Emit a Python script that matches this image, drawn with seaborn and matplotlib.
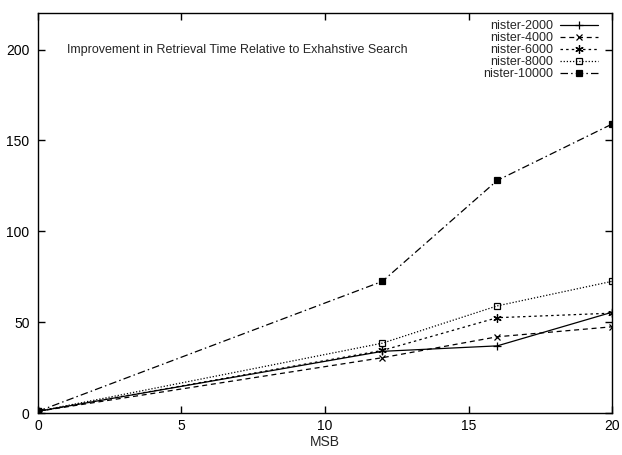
import pandas as pd
import seaborn as sns
import matplotlib.pyplot as plt

# dados
msb = [0, 12, 16, 20]
nister_2000 = [1, 34, 37, 55.5]
nister_4000 = [1, 30.5, 42, 47.5]
nister_6000 = [1, 34.5, 52.5, 55]
nister_8000 = [1, 38.5, 59, 72.5]
nister_10000 = [1, 72.5, 128, 159]

series = {
    "nister-2000": nister_2000,
    "nister-4000": nister_4000,
    "nister-6000": nister_6000,
    "nister-8000": nister_8000,
    "nister-10000": nister_10000,
}

estilos = {
    "nister-2000": dict(marker="+", linestyle="-", ms=6, lw=0.9),
    "nister-4000": dict(marker="x", linestyle=(0, (4, 3)), ms=5, lw=0.9),
    "nister-6000": dict(marker=(6, 2, 0), linestyle=(0, (2, 2.5)), ms=6, lw=0.9),
    "nister-8000": dict(marker="s", linestyle=(0, (1, 1.5)), ms=5, lw=0.9,
                        markerfacecolor="none"),
    "nister-10000": dict(marker="s", linestyle=(0, (6, 2.5, 1.2, 2.5)), ms=5, lw=0.9),
}

sns.set_theme(style="ticks")
plt.rcParams["font.family"] = ["Liberation Sans", "DejaVu Sans"]

fig = plt.figure(figsize=(6.22, 4.55), dpi=100)
ax = fig.add_axes([0.061, 0.092, 0.923, 0.879])

for nome, valores in series.items():
    df = pd.DataFrame({"MSB": msb, "valor": valores})
    sns.lineplot(data=df, x="MSB", y="valor", ax=ax, color="black", label=nome,
                 markeredgecolor="black", markeredgewidth=0.9, **estilos[nome])

ax.set_xlim(0, 20)
ax.set_ylim(0, 220)
ax.set_xticks([0, 5, 10, 15, 20])
ax.set_yticks([0, 50, 100, 150, 200])
ax.tick_params(direction="in", top=True, right=True, labelsize=10, length=5,
               width=1, colors="black", pad=6)
ax.tick_params(axis="x", pad=4)
for s in ax.spines.values():
    s.set_linewidth(1)
    s.set_color("black")
ax.set_xlabel("MSB", fontsize=10, labelpad=2)
ax.set_ylabel("")

ax.text(0.05, 0.907, "Improvement in Retrieval Time Relative to Exhahstive Search",
        transform=ax.transAxes, fontsize=9, ha="left", va="center")

leg = ax.legend(loc="upper right", bbox_to_anchor=(0.984, 0.995), frameon=False,
                markerfirst=False, fontsize=9, handlelength=3.0, handletextpad=0.6,
                labelspacing=0.0, borderaxespad=0)
for t in leg.get_texts():
    t.set_ha("right")
leg._legend_box.align = "right"

fig.savefig("out.png", dpi=100)
